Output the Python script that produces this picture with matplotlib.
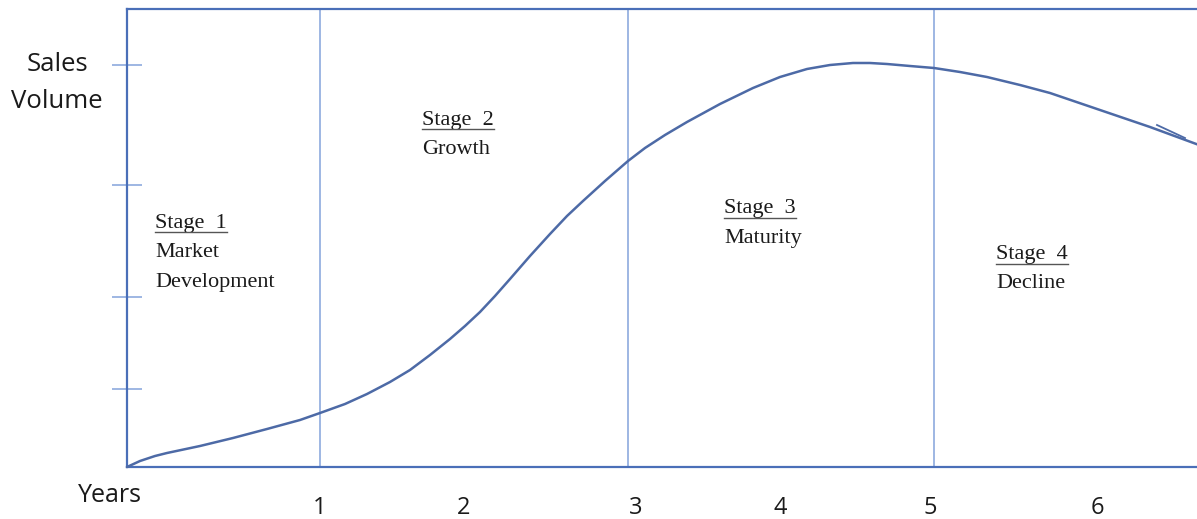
import matplotlib
matplotlib.use("Agg")
import matplotlib.pyplot as plt
from matplotlib.lines import Line2D
from matplotlib.font_manager import FontProperties

# Sales curve over the product life cycle (time position, sales volume)
t_pos = [0.00, 0.13, 0.28, 0.40, 0.73, 1.06, 1.40, 1.73, 1.93, 2.18, 2.40,
         2.63, 2.83, 3.03, 3.23, 3.38, 3.53, 3.68, 3.83, 4.03, 4.23, 4.40,
         4.56, 4.78, 5.01, 5.18, 5.38, 5.60, 5.93, 6.26, 6.53, 6.80, 7.03,
         7.26, 7.43, 7.60, 7.83, 8.07, 8.33, 8.60, 8.93, 9.23, 9.73, 10.23,
         10.72]
sales = [0.00, 0.06, 0.11, 0.14, 0.21, 0.29, 0.38, 0.47, 0.54, 0.63, 0.73,
         0.85, 0.97, 1.12, 1.28, 1.41, 1.55, 1.71, 1.88, 2.11, 2.33, 2.51,
         2.66, 2.86, 3.06, 3.19, 3.32, 3.45, 3.63, 3.79, 3.90, 3.98, 4.02,
         4.04, 4.04, 4.03, 4.01, 3.99, 3.95, 3.90, 3.82, 3.74, 3.57, 3.40,
         3.22]

# Stage boundaries on the time axis
stage_bounds = [1.93, 5.01, 8.07]

# Year labels and their positions along the time axis
year_labels = ["1", "2", "3", "4", "5", "6"]
year_pos = [1.93, 3.37, 5.09, 6.53, 8.03, 9.70]

# Sales volume gridline ticks
volume_ticks = [0.78, 1.70, 2.82, 4.02]

# Stage captions: title, description lines, t position, title baseline
stage_titles = ["Stage  1", "Stage  2", "Stage  3", "Stage  4"]
stage_descs = [["Market", "Development"], ["Growth"], ["Maturity"], ["Decline"]]
stage_t = [0.28, 2.95, 5.97, 8.69]
stage_v = [2.39, 3.42, 2.54, 2.08]
LINE_STEP = 0.295

AXIS_C = "#4a6fb8"
CURVE_C = "#4d6aa6"
LIGHT_C = "#8eaade"
TEXT_C = "#1a1a1a"

W, H = 1197, 519
fig = plt.figure(figsize=(W / 100, H / 100), dpi=100)
ax = fig.add_axes([127 / W, 52 / H, 1072 / W, 458 / H])
ax.set_xlim(0, 10.72)
ax.set_ylim(0, 4.58)

for s in ("left", "top", "bottom"):
    ax.spines[s].set_color(AXIS_C)
    ax.spines[s].set_linewidth(1.6)
ax.spines["right"].set_visible(False)

for b in stage_bounds:
    ax.axvline(b, color=LIGHT_C, lw=1.2, zorder=1)

ax.plot(t_pos, sales, color=CURVE_C, lw=1.8, zorder=3, clip_on=False,
        solid_capstyle="round", solid_joinstyle="round")
# small arrow stroke near the end of the curve
ax.plot([10.30, 10.58], [3.42, 3.29], color=CURVE_C, lw=1.3, zorder=3)

ax.set_yticks(volume_ticks)
ax.set_yticklabels([])
ax.tick_params(axis="y", direction="inout", length=21, width=1.2,
               color=LIGHT_C)

ax.set_xticks(year_pos)
ax.set_xticklabels(year_labels, fontfamily="Open Sans", fontsize=17,
                   color=TEXT_C)
ax.tick_params(axis="x", length=0, pad=21)

fig.text(57 / W, 1 - 83 / H, "Sales\nVolume", ha="center", va="center",
         fontfamily="Open Sans", fontsize=18.5, color=TEXT_C,
         linespacing=1.65)
fig.text(110 / W, 1 - 495 / H, "Years", ha="center", va="center",
         fontfamily="Open Sans", fontsize=18, color=TEXT_C)

serif = FontProperties(family="Liberation Serif", size=16)
for title, desc, tx, vy in zip(stage_titles, stage_descs, stage_t, stage_v):
    ax.text(tx, vy, title, ha="left", va="baseline", fontproperties=serif,
            color=TEXT_C)
    for k, line in enumerate(desc, start=1):
        ax.text(tx, vy - k * LINE_STEP, line, ha="left", va="baseline",
                fontproperties=serif, color=TEXT_C)

# underline stage titles
fig.canvas.draw()
renderer = fig.canvas.get_renderer()
for title, tx, vy in zip(stage_titles, stage_t, stage_v):
    w_px, _, _ = renderer.get_text_width_height_descent(title, serif,
                                                        ismath=False)
    x0, y0 = ax.transData.transform((tx, vy))
    yb = y0 - 4.5
    fig.add_artist(Line2D([x0 / W, (x0 + w_px) / W], [yb / H, yb / H],
                          color="#555555", lw=1.0))

fig.savefig("out.png", dpi=100)
